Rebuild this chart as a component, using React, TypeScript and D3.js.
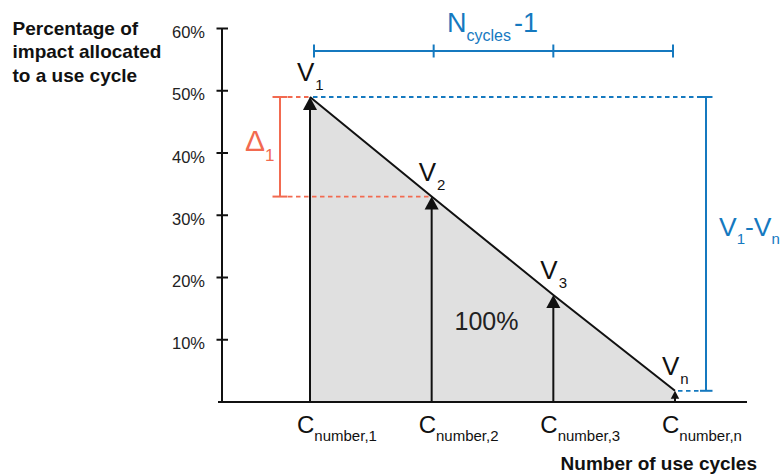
import * as d3 from "d3";

// Cycle labels (C_number,i) and the share of impact allocated to each one
const cycles = ["1", "2", "3", "n"];
const values = [49, 33, 17.2, 1.8];
const yTicks = [10, 20, 30, 40, 50, 60];
const yTickLabels = ["10%", "20%", "30%", "40%", "50%", "60%"];
const yTitle = ["Percentage of", "impact allocated", "to a use cycle"];
const xTitle = "Number of use cycles";

const W = 783;
const H = 474;
const FONT = "'Liberation Sans', Arial, Helvetica, sans-serif";
const BLUE = "#1579bf";
const RED = "#f26a50";
const GREY = "#e0e0e0";

const App = () => {
  const x = d3.scalePoint<string>().domain(cycles).range([310, 675]);
  const brace = d3.scalePoint<string>().domain(cycles).range([314, 673]);
  const y = d3.scaleLinear().domain([0, 60]).range([402, 28.5]);

  const axisX = 222;
  const base = y(0);

  const pts: [number, number][] = values.map((v, i) => [x(cycles[i])!, y(v)]);

  const area = d3
    .area<[number, number]>()
    .x((d) => d[0])
    .y0(base)
    .y1((d) => d[1]);
  const line = d3.line<[number, number]>();

  // vertical measure lines sit right of the last cycle
  const vx = 706;
  const deltaX = 280;
  const first = pts[0];
  const second = pts[1];
  const last = pts[pts.length - 1];

  return (
    <svg
      width={W}
      height={H}
      style={{ position: "absolute", left: 0, top: 0, fontFamily: FONT }}
    >
      <rect width={W} height={H} fill="#fff" />

      {/* grey area under the allocation line */}
      <path d={area(pts) ?? ""} fill={GREY} />

      {/* axes */}
      <line x1={axisX} x2={axisX} y1={y(60)} y2={base} stroke="#111" strokeWidth={2} />
      <line x1={218} x2={747} y1={base} y2={base} stroke="#111" strokeWidth={2} />
      {yTicks.map((t, i) => (
        <g key={t}>
          <line x1={axisX - 5.5} x2={axisX + 6} y1={y(t)} y2={y(t)} stroke="#111" strokeWidth={2} />
          <text x={205} y={y(t) + 9.5} textAnchor="end" fontSize={16.5} fill="#222">
            {yTickLabels[i]}
          </text>
        </g>
      ))}

      {/* y title */}
      {yTitle.map((s, i) => (
        <text key={s} x={12.5} y={35 + i * 23.3} fontSize={19} fontWeight="bold" fill="#111">
          {s}
        </text>
      ))}

      {/* x title */}
      <text x={757} y={470} textAnchor="end" fontSize={19} fontWeight="bold" fill="#111">
        {xTitle}
      </text>

      {/* red delta bracket */}
      {[first, second].map((p, i) => (
        <line
          key={i}
          x1={deltaX + 8}
          x2={p[0]}
          y1={p[1]}
          y2={p[1]}
          stroke={RED}
          strokeWidth={1.8}
          strokeDasharray="4.5 3.5"
        />
      ))}
      <line x1={deltaX} x2={deltaX} y1={first[1]} y2={second[1]} stroke={RED} strokeWidth={2} />
      {[first, second].map((p, i) => (
        <line key={i} x1={deltaX - 7.5} x2={deltaX + 7.5} y1={p[1]} y2={p[1]} stroke={RED} strokeWidth={2} />
      ))}
      <text x={245} y={151} fontSize={30} fill={RED}>
        Δ
        <tspan fontSize={17} dx={0} dy={10}>
          1
        </tspan>
      </text>

      {/* blue V1 - Vn measure */}
      <line
        x1={first[0] + 3}
        x2={vx - 6}
        y1={first[1]}
        y2={first[1]}
        stroke={BLUE}
        strokeWidth={1.8}
        strokeDasharray="4.5 3.5"
      />
      <line
        x1={last[0] + 3}
        x2={vx - 4}
        y1={last[1]}
        y2={last[1]}
        stroke={BLUE}
        strokeWidth={1.8}
        strokeDasharray="4.5 3.5"
      />
      <line x1={vx} x2={vx} y1={first[1]} y2={last[1]} stroke={BLUE} strokeWidth={2} />
      {[first, last].map((p, i) => (
        <line key={i} x1={vx - 6} x2={vx + 6.5} y1={p[1]} y2={p[1]} stroke={BLUE} strokeWidth={2} />
      ))}
      <text x={719} y={236} fontSize={26.5} fill={BLUE}>
        V
        <tspan fontSize={15} dx={0} dy={8}>
          1
        </tspan>
        <tspan fontSize={26.5} dx={0} dy={-8}>
          -V
        </tspan>
        <tspan fontSize={15} dx={0} dy={8}>
          n
        </tspan>
      </text>

      {/* blue N_cycles - 1 brace */}
      <line
        x1={brace(cycles[0])}
        x2={brace(cycles[cycles.length - 1])}
        y1={51}
        y2={51}
        stroke={BLUE}
        strokeWidth={2}
      />
      {cycles.map((c) => (
        <line key={c} x1={brace(c)} x2={brace(c)} y1={44.5} y2={57.5} stroke={BLUE} strokeWidth={2} />
      ))}
      <text x={447} y={32} fontSize={27} fill={BLUE}>
        N
        <tspan fontSize={16} dx={0} dy={9}>
          cycles
        </tspan>
        <tspan fontSize={27} dx={3} dy={-9}>
          -1
        </tspan>
      </text>

      {/* allocation line */}
      <path d={line(pts) ?? ""} fill="none" stroke="#111" strokeWidth={2} />

      {/* arrows and labels per cycle */}
      {pts.map(([px, py], i) => {
        const len = base - py;
        const h = Math.min(13, len * 0.7);
        const w = h * 1.08;
        return (
          <g key={cycles[i]}>
            <line x1={px} x2={px} y1={base} y2={py + h - 1} stroke="#111" strokeWidth={2} />
            <path
              d={`M${px},${py} L${px - w / 2},${py + h} L${px + w / 2},${py + h} Z`}
              fill="#111"
            />
            <text x={px - 13} y={py - 16} fontSize={26} fill="#111">
              V
              <tspan fontSize={15} dx={1} dy={9}>
                {cycles[i]}
              </tspan>
            </text>
            <text x={px - 13} y={432.5} fontSize={24} fill="#111">
              C
              <tspan fontSize={15} dx={0} dy={8}>
                {`number,${cycles[i]}`}
              </tspan>
            </text>
          </g>
        );
      })}

      {/* total share */}
      <text x={(x("2")! + x("3")!) / 2 - 6} y={330} textAnchor="middle" fontSize={25} fill="#222">
        100%
      </text>
    </svg>
  );
};

export default App;
